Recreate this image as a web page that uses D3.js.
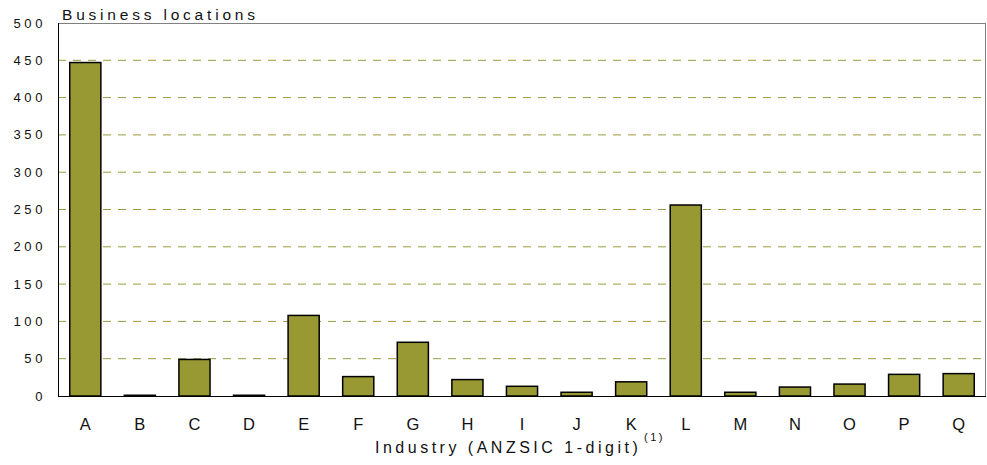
<!DOCTYPE html>
<html>
<head>
<meta charset="utf-8">
<script src="https://cdn.jsdelivr.net/npm/d3@7"></script>
<style>
  body { margin: 0; background: #fff; }
  text { font-family: "Liberation Sans", Arial, sans-serif; fill: #111; }
</style>
</head>
<body>
<div id="chart"></div>
<script>
var industries = ["A","B","C","D","E","F","G","H","I","J","K","L","M","N","O","P","Q"];
var locations = [447, 1, 49, 1, 108, 26, 72, 22, 13, 5, 19, 256, 5, 12, 16, 29, 30];
var yTicks = [0, 50, 100, 150, 200, 250, 300, 350, 400, 450, 500];

var W = 987, H = 465;
var mLeft = 58, mRight = 986, mTop = 23, mBottom = 396;

var svg = d3.select("#chart").append("svg").attr("width", W).attr("height", H);

var x = d3.scaleBand().domain(industries).range([mLeft, mRight]).paddingInner(0.43).paddingOuter(0.215);
var y = d3.scaleLinear().domain([0, 500]).range([mBottom, mTop]);

// gridlines
svg.append("g").selectAll("line").data(yTicks.filter(function(d){ return d > 0 && d < 500; }))
  .enter().append("line")
  .attr("x1", mLeft).attr("x2", mRight)
  .attr("y1", function(d){ return y(d); }).attr("y2", function(d){ return y(d); })
  .style("stroke", "#9a9a3a").style("stroke-width", 1).style("stroke-dasharray", "8,7");

// frame top/right
svg.append("line").attr("x1", mLeft).attr("x2", mRight).attr("y1", mTop + 0.5).attr("y2", mTop + 0.5).style("stroke", "#808080");
svg.append("line").attr("x1", mRight - 0.5).attr("x2", mRight - 0.5).attr("y1", mTop).attr("y2", mBottom).style("stroke", "#808080");

// bars
svg.append("g").selectAll("rect").data(locations).enter().append("rect")
  .attr("x", function(d, i){ return x(industries[i]); })
  .attr("width", x.bandwidth())
  .attr("y", function(d){ return y(d); })
  .attr("height", function(d){ return mBottom - y(d); })
  .style("fill", "#999933").style("stroke", "#000").style("stroke-width", 1.5);

// axes lines
svg.append("line").attr("x1", mLeft + 0.5).attr("x2", mLeft + 0.5).attr("y1", mTop).attr("y2", mBottom + 1).style("stroke", "#000");
svg.append("line").attr("x1", mLeft).attr("x2", mRight).attr("y1", mBottom + 0.5).attr("y2", mBottom + 0.5).style("stroke", "#000");

// y tick labels
svg.append("g").selectAll("text").data(yTicks).enter().append("text")
  .attr("x", 46).attr("y", function(d){ return y(d) + 4.5; })
  .attr("text-anchor", "end").style("font-size", "13px").style("letter-spacing", "3.6px")
  .text(function(d){ return d; });

// x tick labels
svg.append("g").selectAll("text").data(industries).enter().append("text")
  .attr("x", function(d){ return x(d) + x.bandwidth() / 2; }).attr("y", 429.5)
  .attr("text-anchor", "middle").style("font-size", "16.5px")
  .text(function(d){ return d; });

// titles
svg.append("text").attr("x", 62).attr("y", 20).style("font-size", "15.5px").style("letter-spacing", "3.8px")
  .text("Business locations");

var xt = svg.append("text").attr("x", 375).attr("y", 452.5).style("font-size", "16px").style("letter-spacing", "3.5px");
xt.append("tspan").text("Industry (ANZSIC 1-digit)");
xt.append("tspan").attr("x", 644).attr("dy", -12).style("font-size", "11px").style("letter-spacing", "2.5px").text("(1)");
</script>
</body>
</html>
